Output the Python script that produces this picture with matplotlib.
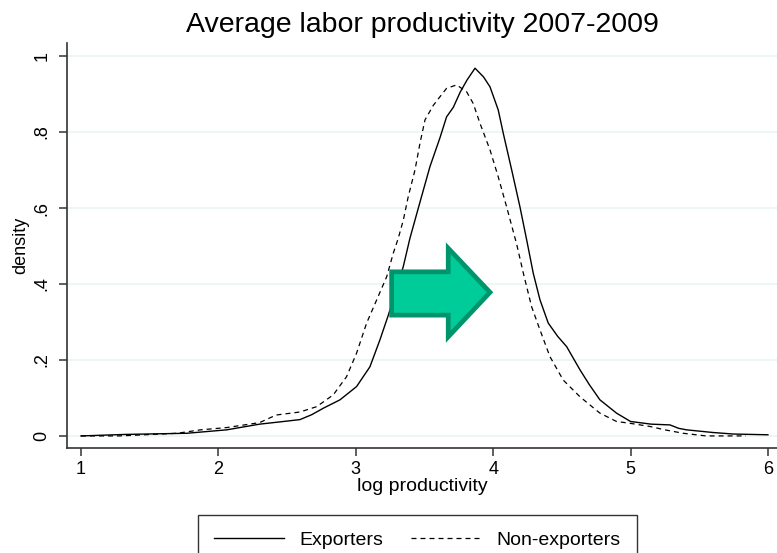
import matplotlib
matplotlib.use("Agg")
import matplotlib.pyplot as plt
from matplotlib.patches import Polygon

plt.rcParams['font.family'] = ['Liberation Sans', 'DejaVu Sans']

# kernel density
exp_x = [1.0, 1.33, 1.77, 2.06, 2.30, 2.45, 2.594, 2.68, 2.764, 2.885, 3.006, 3.103,
         3.176, 3.237, 3.30, 3.346, 3.394, 3.467, 3.540, 3.613, 3.661, 3.71, 3.76, 3.81,
         3.868, 3.93, 3.977, 4.037, 4.074, 4.135, 4.195, 4.244, 4.292, 4.341, 4.401, 4.47,
         4.535, 4.632, 4.70, 4.777, 4.898, 5.0, 5.15, 5.287, 5.35, 5.408, 5.6, 5.747, 6.0]
exp_y = [0.0, 0.004, 0.007, 0.016, 0.031, 0.037, 0.043, 0.056, 0.073, 0.095, 0.130, 0.182,
         0.253, 0.318, 0.390, 0.446, 0.520, 0.615, 0.709, 0.785, 0.840, 0.865, 0.905, 0.937,
         0.968, 0.945, 0.919, 0.858, 0.796, 0.700, 0.603, 0.516, 0.428, 0.358, 0.297, 0.262,
         0.235, 0.174, 0.135, 0.095, 0.060, 0.038, 0.031, 0.029, 0.020, 0.016, 0.009, 0.005, 0.003]

non_x = [1.0, 1.28, 1.70, 1.87, 2.06, 2.30, 2.42, 2.594, 2.715, 2.836, 2.933, 3.006,
         3.079, 3.152, 3.225, 3.273, 3.309, 3.346, 3.382, 3.431, 3.467, 3.504, 3.564, 3.613,
         3.661, 3.734, 3.807, 3.855, 3.904, 3.977, 4.037, 4.098, 4.171, 4.22, 4.28, 4.341,
         4.413, 4.51, 4.632, 4.777, 4.898, 5.0, 5.14, 5.25, 5.383, 5.55, 5.84]
non_y = [0.0, 0.0, 0.007, 0.016, 0.022, 0.035, 0.055, 0.063, 0.077, 0.108, 0.156, 0.218,
         0.297, 0.358, 0.419, 0.481, 0.520, 0.568, 0.630, 0.700, 0.770, 0.832, 0.870, 0.893,
         0.915, 0.924, 0.906, 0.875, 0.823, 0.753, 0.682, 0.603, 0.505, 0.428, 0.340, 0.279,
         0.209, 0.147, 0.103, 0.060, 0.038, 0.033, 0.025, 0.016, 0.007, 0.0, 0.0]

xticks = [1, 2, 3, 4, 5, 6]
yticks = [0, 0.2, 0.4, 0.6, 0.8, 1.0]
ytick_labels = ["0", ".2", ".4", ".6", ".8", "1"]

# green shift arrow (data units)
arrow_x = [3.261, 3.673, 3.673, 3.977, 3.673, 3.673, 3.261]
arrow_y = [0.432, 0.432, 0.494, 0.378, 0.261, 0.318, 0.318]

fig = plt.figure(figsize=(7.77, 5.53), dpi=100)
ax = fig.add_axes([0.0862, 0.19, 0.9138, 0.732])

for yv in yticks:
    ax.axhline(yv, color='#eaf2f3', lw=1.1, zorder=0)

ax.plot(exp_x, exp_y, color='black', lw=1.0, label='Exporters')
ax.plot(non_x, non_y, color='black', lw=0.9, linestyle=(0, (4, 3.2)), label='Non-exporters')

ax.add_patch(Polygon(list(zip(arrow_x, arrow_y)), closed=True, facecolor='#00cc99',
                     edgecolor='#00946c', lw=3.4, joinstyle='miter', zorder=5))

ax.set_xlim(0.898, 6.066)
ax.set_ylim(-0.0316, 1.034)
ax.set_xticks(xticks)
ax.set_yticks(yticks)
ax.set_yticklabels(ytick_labels, rotation=90, va='center')
ax.tick_params(direction='out', length=6, width=1.1, color='#333333', labelsize=13)
ax.tick_params(axis='y', pad=6)
for side in ['top', 'right']:
    ax.spines[side].set_visible(False)
for side in ['left', 'bottom']:
    ax.spines[side].set_color('#333333')
    ax.spines[side].set_linewidth(1.2)

ax.set_xlabel('log productivity', fontsize=14, labelpad=0)
ax.set_ylabel('density', fontsize=13, labelpad=3)
ax.set_title('Average labor productivity 2007-2009', fontsize=20.5, pad=8)

leg = fig.legend(loc='upper center', bbox_to_anchor=(0.5373, 0.069), ncol=2,
                 fontsize=14, frameon=True, fancybox=False, edgecolor='black',
                 handlelength=3.6, handletextpad=0.8, columnspacing=1.4, borderpad=0.85,
                 borderaxespad=0)
leg.get_frame().set_linewidth(1.0)

fig.savefig('out.png', dpi=100)
